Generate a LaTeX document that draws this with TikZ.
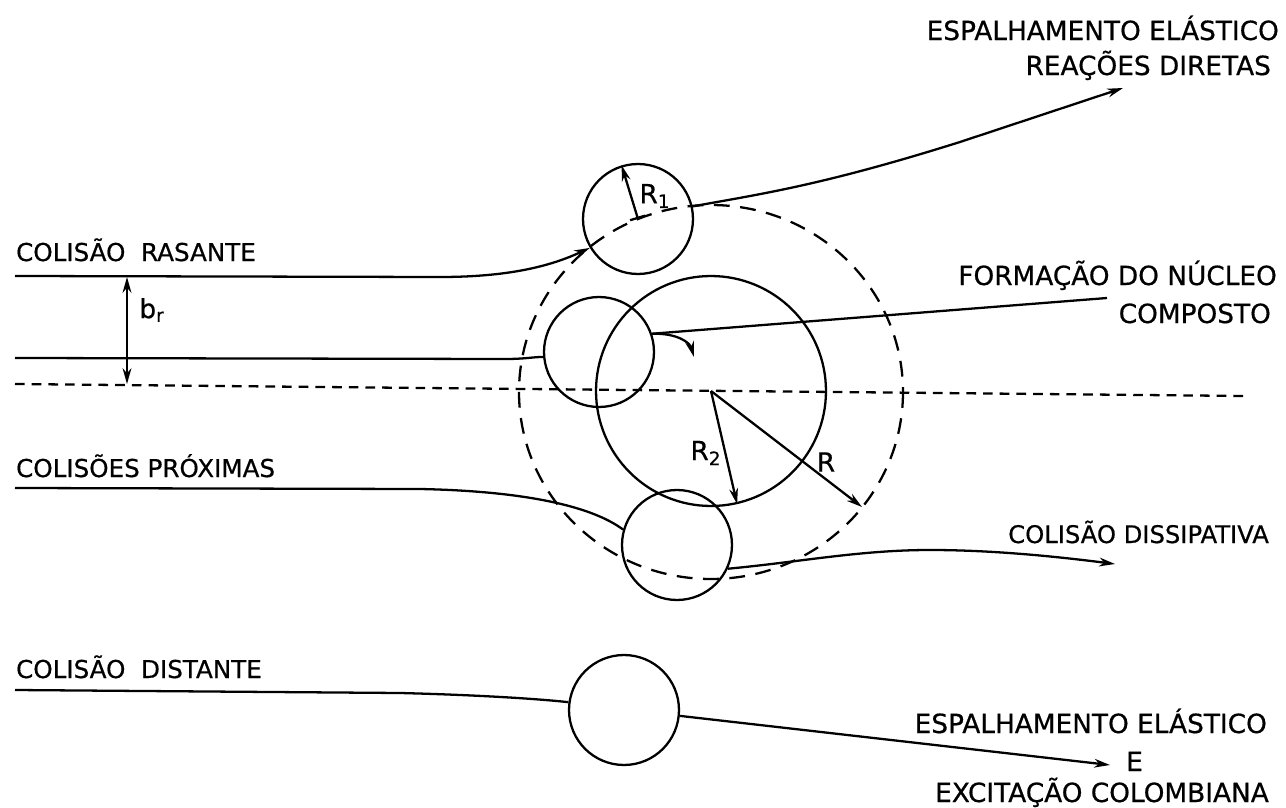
\documentclass[tikz,border=0pt]{standalone}
\usepackage{fontspec}
\setmainfont{DejaVu Sans}
\newfontfamily\lettering[FakeBold=0.6]{DejaVu Sans}
\usetikzlibrary{arrows.meta}
\begin{document}
\begin{tikzpicture}[x=0.02cm,y=-0.02cm, line width=1.3pt,
  tip/.style={-{Stealth[length=9pt,width=5pt]}},
  lblR/.style={font=\lettering\fontsize{15}{18}\selectfont, inner sep=0pt, anchor=base east},
  lblL/.style={font=\lettering\fontsize{14}{17}\selectfont, inner sep=0pt, anchor=base west},
  sym/.style={font=\lettering\fontsize{15}{18}\selectfont, inner sep=0pt},
  proj/.style={circle, draw, minimum size=2.2cm, inner sep=0pt},
  bigdash/.style={dash pattern=on 9pt off 6pt},
  axisdash/.style={dash pattern=on 5.5pt off 4pt}]
\useasboundingbox (0,0) rectangle (1286,808);

% nuclei
\node[proj] (p1) at (638,219) {};
\node[proj] (p2) at (599,352) {};
\node[proj] (p3) at (677,545) {};
\node[proj] (p4) at (624,710) {};
\node[circle, draw, minimum size=4.6cm, inner sep=0pt] (T) at (711,391) {};
\coordinate (c) at (711,391);
\draw[bigdash] (711,392) ellipse [x radius=192, y radius=187];

% axis
\coordinate (dL) at (15,384);
\coordinate (dR) at (1245,396);
\draw[axisdash] (dL) -- (dR);

% coordinates for free ends
\coordinate (a1) at (15,276);
\coordinate (e1) at (1123,88);
\coordinate (a2) at (15,358);
\coordinate (f1) at (1107,298);
\coordinate (f2) at (694,357);
\coordinate (a3) at (15,488);
\coordinate (e3) at (1115,564);
\coordinate (a4) at (15,690);
\coordinate (e4) at (1110,765);
\coordinate (Rend) at (862,507);
\coordinate (bt) at (127,277);
\coordinate (bb) at (127,384);

% grazing collision
\draw[tip] (a1) -- (440,277) .. controls (515,277) and (555,264) .. (p1.211);
\draw[tip] (p1.13) .. controls (760,194) and (820,186) .. (960,142) -- (e1);

% compound nucleus
\draw (a2) -- (505,359) .. controls (525,359) and (533,357) .. (p2.185);
\draw (p2.19) -- (f1);
\draw[tip] (p2.19) .. controls (678,333) and (690,343) .. (f2);

% close collisions
\draw (a3) -- (420,489) .. controls (520,491) and (590,505) .. (p3.164);
\draw[tip] (p3.-25) .. controls (800,562) and (860,550) .. (930,550) .. controls (995,550) and (1060,557) .. (e3);

% distant collision
\draw (a4) -- (400,693) .. controls (480,695) and (540,699) .. (p4.172);
\draw[tip] (p4.-6) -- (e4);

% radii
\draw[{Bar[width=9pt]}-{Stealth[length=9pt,width=5pt]}] (p1.center) -- (p1.107);
\node[sym] (r1) at (655,196) {R\textsubscript{1}};
\draw[tip] (c) -- (T.-77);
\node[sym] (r2) at (706,453) {R\textsubscript{2}};
\draw[tip] (c) -- (Rend);
\node[sym] (rr) at (826,462) {R};

% impact parameter
\draw[{Stealth[length=9pt,width=5pt]}-{Stealth[length=9pt,width=5pt]}] (bt) -- (bb);
\node[sym] (br) at (152,310) {b\textsubscript{r}};

% labels
\node[lblL] (l1) at (15,261) {COLISÃO\ \ RASANTE};
\node[lblL] (l2) at (15,477) {COLISÕES PRÓXIMAS};
\node[lblL] (l3) at (15,678) {COLISÃO\ \ DISTANTE};

\node[lblR] (t1) at (1280,40) {ESPALHAMENTO ELÁSTICO};
\node[lblR] (t2) at (1272,75) {REAÇÕES DIRETAS};
\node[lblR] (t3) at (1278,285) {FORMAÇÃO DO NÚCLEO};
\node[lblR] (t4) at (1272,323) {COMPOSTO};
\node[lblR, font=\lettering\fontsize{13.8}{17}\selectfont] (t5) at (1270,543) {COLISÃO DISSIPATIVA};
\node[lblR] (t6) at (1268,733) {ESPALHAMENTO ELÁSTICO};
\node[lblR] (t7) at (1144,771) {E};
\node[lblR] (t8) at (1270,802) {EXCITAÇÃO COLOMBIANA};
\end{tikzpicture}
\end{document}
